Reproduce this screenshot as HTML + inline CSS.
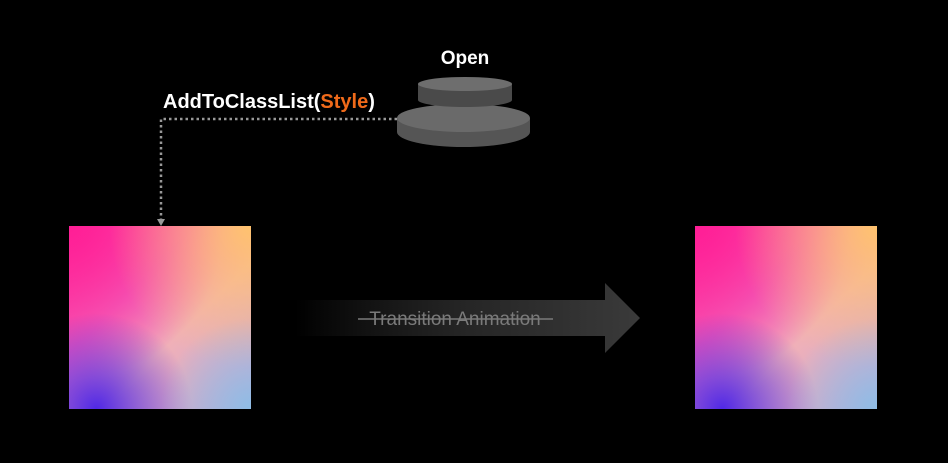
<!DOCTYPE html>
<html><head><style>
body{margin:0;width:948px;height:463px;background:#000;overflow:hidden;position:relative;font-family:"Liberation Sans",sans-serif}
.sq{position:absolute;width:182px;height:183px;top:226px;
background:
radial-gradient(circle at 100% 100%, rgba(140,190,230,0.95) 0, rgba(140,190,230,0) 35%),
radial-gradient(circle at 15% 100%, rgba(80,40,230,1) 0, rgba(80,40,230,0) 40%),
radial-gradient(circle at 100% 0, rgba(255,195,110,1) 0, rgba(255,195,110,0) 55%),
radial-gradient(circle at 0 0, rgba(255,30,150,1) 0, rgba(255,30,150,0) 60%),
linear-gradient(135deg,#ff3aa0 0%,#f06cc0 35%,#f0b0b8 60%,#c0a8d8 100%);}
</style></head><body>
<div class="sq" style="left:69px"></div>
<div class="sq" style="left:695px"></div>
<svg width="948" height="463" style="position:absolute;left:0;top:0">
<defs>
<linearGradient id="ag" x1="295" y1="0" x2="640" y2="0" gradientUnits="userSpaceOnUse">
<stop offset="0" stop-color="#333" stop-opacity="0"/>
<stop offset="0.5" stop-color="#2a2a2a" stop-opacity="0.9"/>
<stop offset="1" stop-color="#3a3a3a"/>
</linearGradient>
</defs>
<polygon points="290,300 605,300 605,283 640,318 605,353 605,336 290,336" fill="url(#ag)"/>
<text x="455" y="325" fill="#7a7a7a" font-size="19" text-anchor="middle" font-family="Liberation Sans">Transition Animation</text>
<line x1="358" y1="319" x2="553" y2="319" stroke="#7a7a7a" stroke-width="1.5"/>
<!-- button -->
<path d="M397,118 L397,132 A66.5,15 0 0 0 530,132 L530,118 Z" fill="#555"/>
<ellipse cx="463.5" cy="118" rx="66.5" ry="14" fill="#6a6a6a"/>
<path d="M418,84 L418,100 A47,7 0 0 0 512,100 L512,84 Z" fill="#4a4a4a"/>
<ellipse cx="465" cy="84" rx="47" ry="7" fill="#6e6e6e"/>
<text x="465" y="64" fill="#fff" font-size="19" font-weight="bold" text-anchor="middle">Open</text>
<text x="163" y="108" fill="#fff" font-size="20" font-weight="bold">AddToClassList(<tspan fill="#f06a1a">Style</tspan>)</text>
<path d="M397,119 L161,119 L161,222" fill="none" stroke="#999" stroke-width="2.5" stroke-dasharray="2.5,3"/>
<polygon points="157,219 165,219 161,226" fill="#999"/>
</svg>
</body></html>
